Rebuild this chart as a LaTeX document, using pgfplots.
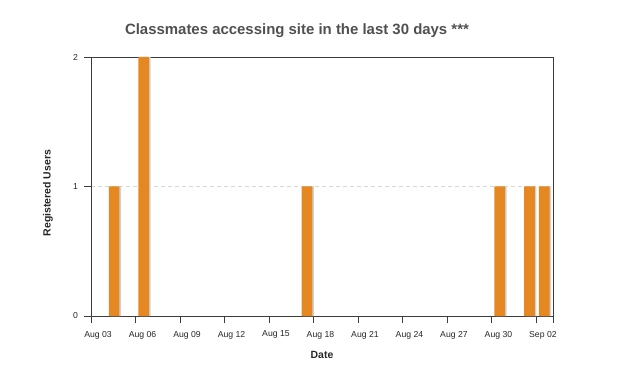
\documentclass[border=0pt]{standalone}
\usepackage{pgfplots}
\pgfplotsset{compat=1.18}
\usepackage{fontspec}
\setmainfont{Liberation Sans}
\definecolor{barorange}{RGB}{229,136,34}
\definecolor{axisgray}{RGB}{60,60,60}
\definecolor{titlegray}{RGB}{80,80,80}
\definecolor{gridgray}{RGB}{215,215,215}
\begin{document}
\begin{tikzpicture}
\path[use as bounding box] (0bp,0bp) rectangle (626bp,374bp);
\begin{axis}[
  at={(91bp,58bp)}, anchor=south west,
  scale only axis, width=462bp, height=259bp,
  xmin=0, xmax=31.15, ymin=0, ymax=2,
  ytick={0,1,2},
  xtick={0,3,...,30},
  xticklabels={Aug 03,Aug 06,Aug 09,Aug 12,Aug 15,Aug 18,Aug 21,Aug 24,Aug 27,Aug 30,Sep 02},
  extra x ticks={31.15}, extra x tick labels={},
  xtick pos=lower, ytick pos=left,
  tick align=outside,
  major tick length=6.5bp,
  axis line style={axisgray, line width=0.9bp},
  tick style={axisgray, line width=0.8bp},
  ticklabel style={font=\fontsize{8.7}{10}\selectfont, text=black!85},
  xticklabel style={xshift=7bp, yshift=-5bp},
  yticklabel style={xshift=-3bp},
  /pgf/number format/assume math mode=true,
  ymajorgrids, grid style={gridgray, dashed, dash pattern=on 4bp off 3bp, line width=0.8bp},
  ybar, bar width=0.72,
  clip=false,
]
\addplot[fill=black!18, draw=none, bar shift=1.6bp] coordinates {(1.56,1) (3.56,2) (14.56,1) (27.56,1) (29.56,1) (30.56,1)};
\addplot[fill=barorange, draw=none, bar shift=0bp] coordinates {(1.56,1) (3.56,2) (14.56,1) (27.56,1) (29.56,1) (30.56,1)};
\end{axis}
\node[font=\fontsize{15}{18}\selectfont\bfseries, text=titlegray] at (297bp,343bp) {Classmates accessing site in the last 30 days ***};
\node[font=\fontsize{10.5}{12}\selectfont\bfseries, text=black!85] at (322bp,19bp) {Date};
\node[font=\fontsize{10.5}{12}\selectfont\bfseries, text=black!85, rotate=90] at (48bp,181bp) {Registered Users};
\end{tikzpicture}
\end{document}
